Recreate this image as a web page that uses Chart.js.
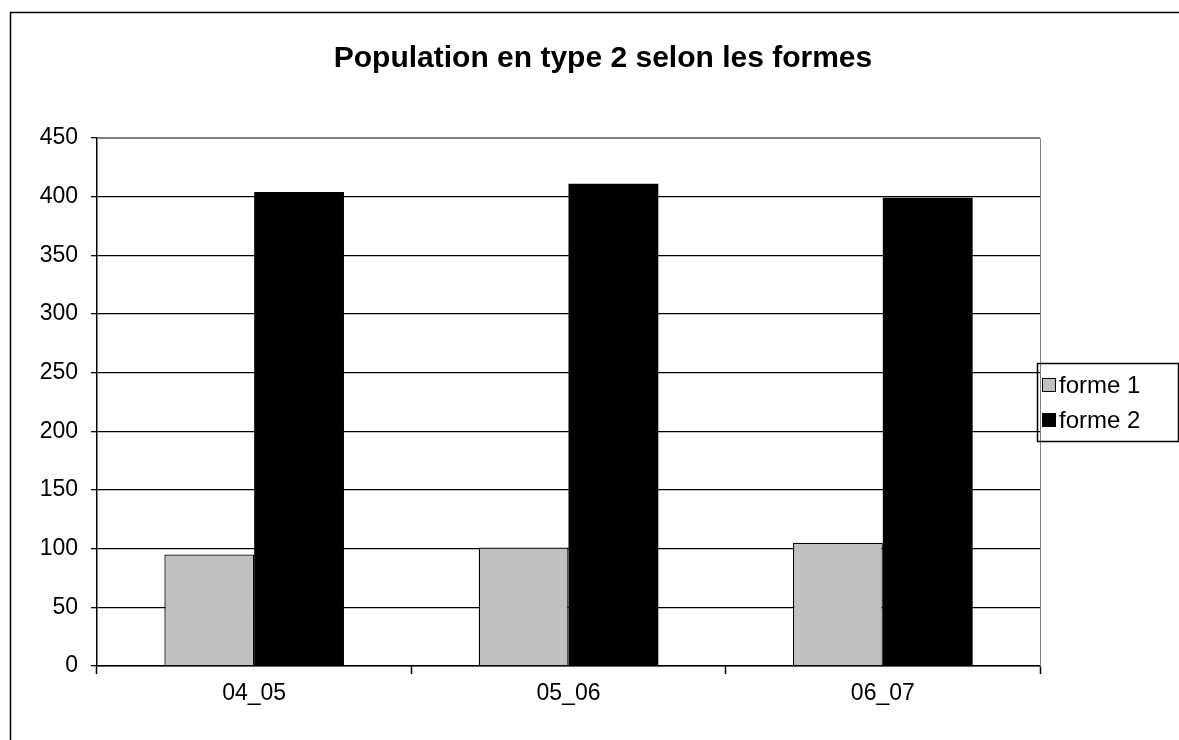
<!DOCTYPE html>
<html>
<head>
<meta charset="utf-8">
<script src="https://cdn.jsdelivr.net/npm/chart.js@4"></script>
<style>
    html, body { margin: 0; padding: 0; background: #fff; }
    #wrap { width: 1179px; height: 740px; }
</style>
</head>
<body>
<div id="wrap"><canvas id="populationChart" width="1179" height="740"></canvas></div>
<script>

const periods = ['04_05', '05_06', '06_07'];
const forme1 = [95, 101, 105];
const forme2 = [404, 411, 399];
const seriesNames = ['forme 1', 'forme 2'];
const chartTitle = 'Population en type 2 selon les formes';

const FONT = 'Arial, "Liberation Sans", sans-serif';

// outer frame, plot border, title and the boxed legend on the right
const frameAndLegend = {
    id: 'frameAndLegend',
    afterDraw(chart) {
        const ctx = chart.ctx;
        const area = chart.chartArea;
        ctx.save();

        ctx.strokeStyle = '#000';
        ctx.lineWidth = 1.5;
        ctx.beginPath();
        ctx.moveTo(10.5, 760);
        ctx.lineTo(10.5, 12.5);
        ctx.lineTo(1200, 12.5);
        ctx.stroke();

        ctx.strokeStyle = '#808080';
        ctx.lineWidth = 1;
        ctx.beginPath();
        ctx.moveTo(Math.round(area.left) + 0.5, Math.round(area.top) + 0.5);
        ctx.lineTo(Math.round(area.right) + 0.5, Math.round(area.top) + 0.5);
        ctx.lineTo(Math.round(area.right) + 0.5, Math.round(area.bottom));
        ctx.stroke();

        ctx.fillStyle = '#000';
        ctx.font = 'bold 30px ' + FONT;
        ctx.textAlign = 'center';
        ctx.textBaseline = 'alphabetic';
        ctx.fillText(chartTitle, 603, 67);

        // legend
        const lx = 1037, ly = 363, lw = 141, lh = 78;
        ctx.strokeStyle = '#000';
        ctx.lineWidth = 1.5;
        ctx.strokeRect(lx + 0.5, ly + 0.5, lw, lh);
        ctx.font = '24px ' + FONT;
        ctx.textAlign = 'left';
        ctx.textBaseline = 'middle';
        chart.data.datasets.forEach((ds, i) => {
            const cy = ly + 22 + i * 35;
            ctx.fillStyle = ds.backgroundColor;
            ctx.fillRect(lx + 5.5, cy - 6.5, 13, 13);
            ctx.strokeStyle = '#000';
            ctx.lineWidth = 1;
            ctx.strokeRect(lx + 5.5, cy - 6.5, 13, 13);
            ctx.fillStyle = '#000';
            ctx.fillText(ds.label, lx + 22, cy + 1);
        });

        ctx.restore();
    }
};

const data = {
    labels: periods,
    datasets: [{
        label: seriesNames[0],
        data: forme1,
        backgroundColor: '#C0C0C0',
        borderColor: '#000',
        borderWidth: 1.3,
        borderSkipped: 'bottom',
        categoryPercentage: 2 / 3.5,
        barPercentage: 1
        },
        {
        label: seriesNames[1],
        data: forme2,
        backgroundColor: '#000000',
        borderColor: '#000',
        borderWidth: 0,
        categoryPercentage: 2 / 3.5,
        barPercentage: 1
        }
    ]
};

const config = {
    type: 'bar',
    data: data,
    plugins: [frameAndLegend],
    options: {
        responsive: false,
        animation: false,
        layout: {
            padding: { left: 10, top: 138, right: 139, bottom: 0 }
        },
        plugins: {
            legend: { display: false },
            title: { display: false },
            tooltip: { enabled: false }
        },
        scales: {
            x: {
                afterFit: scale => { scale.height = 74; },
                border: { color: '#000', width: 1.5 },
                grid: {
                    offset: true,
                    drawOnChartArea: false,
                    drawTicks: true,
                    tickLength: 8,
                    tickColor: '#000',
                    tickWidth: 1.5
                },
                ticks: {
                    color: '#000',
                    padding: 6,
                    font: { family: FONT, size: 23 }
                }
            },
            y: {
                min: 0,
                max: 450,
                afterFit: scale => { scale.width = 87; },
                border: { color: '#000', width: 1.5 },
                grid: {
                    color: ctx => ctx.tick && ctx.tick.value === 450 ? '#808080' : '#000',
                    lineWidth: 1.3,
                    tickLength: 6,
                    tickColor: '#000'
                },
                ticks: {
                    stepSize: 50,
                    color: '#000',
                    padding: 13,
                    font: { family: FONT, size: 23 }
                }
            }
        }
    }
};

new Chart(
    document.getElementById('populationChart'),
    config
);
</script>
</body>
</html>
